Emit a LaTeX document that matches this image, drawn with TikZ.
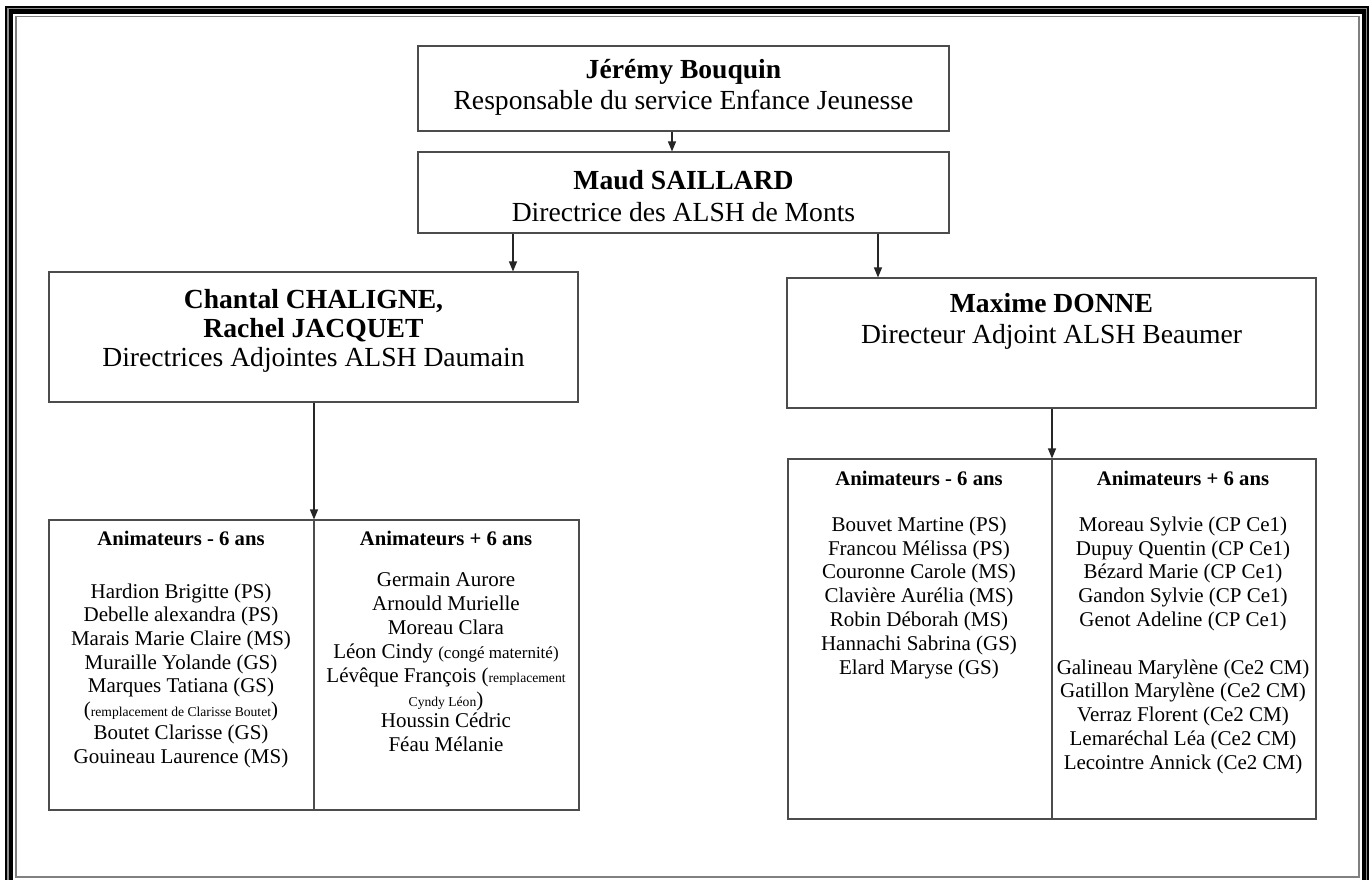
\documentclass[tikz,border=0pt]{standalone}
\usepackage{fontspec}
\setmainfont{Liberation Serif}
\usetikzlibrary{arrows.meta}
\begin{document}
\begin{tikzpicture}[x=1pt,y=-1pt,
  box/.style={draw=black!70, line width=1.1pt, inner sep=0pt, fill=white},
  tline/.style={draw=black!70, line width=1.1pt},
  arr/.style={draw=black!85, line width=1.1pt, -{Triangle[length=10pt,width=8pt]}},
  big/.style={font=\fontsize{27.6}{32}\selectfont, inner sep=0pt},
  bigb/.style={font=\bfseries\fontsize{27.6}{32}\selectfont, inner sep=0pt},
  head/.style={font=\bfseries\fontsize{20.7}{24}\selectfont, inner sep=0pt},
  col/.style={font=\fontsize{21}{#1}\selectfont, inner sep=0pt, align=center, anchor=north}]
\useasboundingbox (0,0) rectangle (1369,879);
\clip (0,0) rectangle (1369,879);
\fill[white] (0,0) rectangle (1369,879);
% frame
\draw[black, line width=8pt] (9,9.5) rectangle (1365.5,884);
\draw[black!45, line width=1.3pt] (8,8.5) rectangle (1366.5,885);
\draw[black!50, line width=1.5pt] (16,16.5) rectangle (1359,877);
% top boxes
\node[box, minimum width=531pt, minimum height=85pt] (jb) at (683.5,88.5) {};
\node[bigb] (jbn) at (683.5,72) {Jérémy Bouquin};
\node[big] (jbt) at (683.5,103) {Responsable du service Enfance Jeunesse};
\node[box, minimum width=531pt, minimum height=81pt] (mb) at (683.5,192.5) {};
\node[bigb] (mbn) at (683.5,180) {Maud SAILLARD};
\node[big] (mbt) at (683.5,212) {Directrice des ALSH de Monts};
\node[box, minimum width=529pt, minimum height=130pt] (cb) at (313.5,337) {};
\node[bigb] (cbn1) at (313.5,301) {Chantal CHALIGNE,};
\node[bigb] (cbn2) at (313.5,330) {Rachel JACQUET};
\node[big] (cbt) at (313.5,360) {Directrices Adjointes ALSH Daumain};
\node[box, minimum width=529pt, minimum height=130pt] (xb) at (1051.5,343) {};
\node[bigb] (xbn) at (1051.5,303) {Maxime DONNE};
\node[big] (xbt) at (1051.5,337) {Directeur Adjoint ALSH Beaumer};
% tables
\node[box, minimum width=530pt, minimum height=290pt] (lt) at (314,665) {};
\draw[tline] (lt.north) -- (lt.south);
\node[box, minimum width=528pt, minimum height=360pt] (rt) at (1052,639) {};
\draw[tline] (rt.north) -- (rt.south);
% arrows
\coordinate (a0) at (672,0);
\coordinate (a1) at (513,0);
\coordinate (a2) at (878,0);
\draw[arr] (jb.south -| a0) -- (mb.north -| a0);
\draw[arr] (mb.south -| a1) -- (cb.north -| a1);
\draw[arr] (mb.south -| a2) -- (xb.north -| a2);
\draw[arr] (cb.south -| lt.north) -- (lt.north);
\draw[arr] (xb.south -| rt.north) -- (rt.north);
% left table
\node[head] (lh1) at (181,538) {Animateurs - 6 ans};
\node[head] (lh2) at (446,538) {Animateurs + 6 ans};
\node[col=23.6] (lc1) at (181,581.5) {\strut Hardion Brigitte (PS)\\
Debelle alexandra (PS)\\
Marais Marie Claire (MS)\\
Muraille Yolande (GS)\\
Marques Tatiana (GS)\\
({\fontsize{13.6}{23.6}\selectfont remplacement de Clarisse Boutet})\\
Boutet Clarisse (GS)\\
Gouineau Laurence (MS)};
\node[col=24] (lc2) at (446,569.5) {\strut Germain Aurore\\
Arnould Murielle\\
Moreau Clara\\
Léon Cindy {\fontsize{17}{24}\selectfont (congé maternité)}\\
Lévêque François ({\fontsize{13.6}{24}\selectfont remplacement}\\
{\fontsize{13.6}{24}\selectfont Cyndy Léon})\\[-3pt]
Houssin Cédric\\
Féau Mélanie};
% right table
\node[head] (rh1) at (919,478) {Animateurs - 6 ans};
\node[head] (rh2) at (1183,478) {Animateurs + 6 ans};
\node[col=23.8] (rc1) at (919,514.5) {\strut Bouvet Martine (PS)\\
Francou Mélissa (PS)\\
Couronne Carole (MS)\\
Clavière Aurélia (MS)\\
Robin Déborah (MS)\\
Hannachi Sabrina (GS)\\
Elard Maryse (GS)};
\node[col=23.8] (rc2) at (1183,514.5) {\strut Moreau Sylvie (CP Ce1)\\
Dupuy Quentin (CP Ce1)\\
Bézard Marie (CP Ce1)\\
Gandon Sylvie (CP Ce1)\\
Genot Adeline (CP Ce1)\\[23.8pt]
Galineau Marylène (Ce2 CM)\\
Gatillon Marylène (Ce2 CM)\\
Verraz Florent (Ce2 CM)\\
Lemaréchal Léa (Ce2 CM)\\
Lecointre Annick (Ce2 CM)};
\end{tikzpicture}
\end{document}
